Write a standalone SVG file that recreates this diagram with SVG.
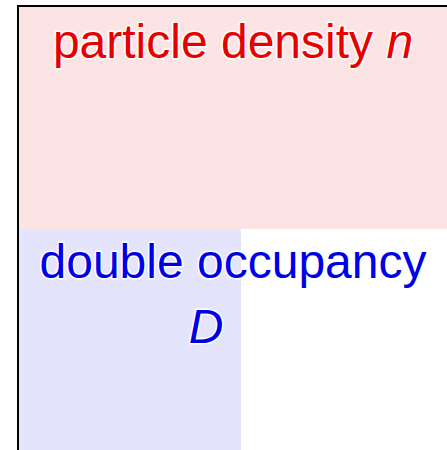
<svg xmlns="http://www.w3.org/2000/svg" width="447" height="450" viewBox="0 0 447 450">
<style>
.lbl{font-family:"Liberation Sans",Arial,sans-serif;font-size:48px;stroke:#ffffff;stroke-width:3;paint-order:stroke;stroke-linejoin:round}
.red{fill:#e60000}
.blue{fill:#0000e6}
</style>
<rect x="0" y="0" width="447" height="450" fill="#ffffff"/>
<g id="density">
<rect x="18" y="6" width="429" height="223" fill="#fde4e4"/>
<text class="lbl red" x="233" y="58" text-anchor="middle">particle density <tspan font-style="italic">n</tspan></text>
</g>
<g id="occupancy">
<rect x="18" y="229" width="223" height="221" fill="#e4e4fc"/>
<text class="lbl blue" x="233" y="278" text-anchor="middle">double occupancy</text>
<text class="lbl blue" x="206" y="343" text-anchor="middle" font-style="italic">D</text>
</g>
<g id="axes">
<path d="M18 450 V6 H447" fill="none" stroke="#000000" stroke-width="2"/>
</g>
</svg>
